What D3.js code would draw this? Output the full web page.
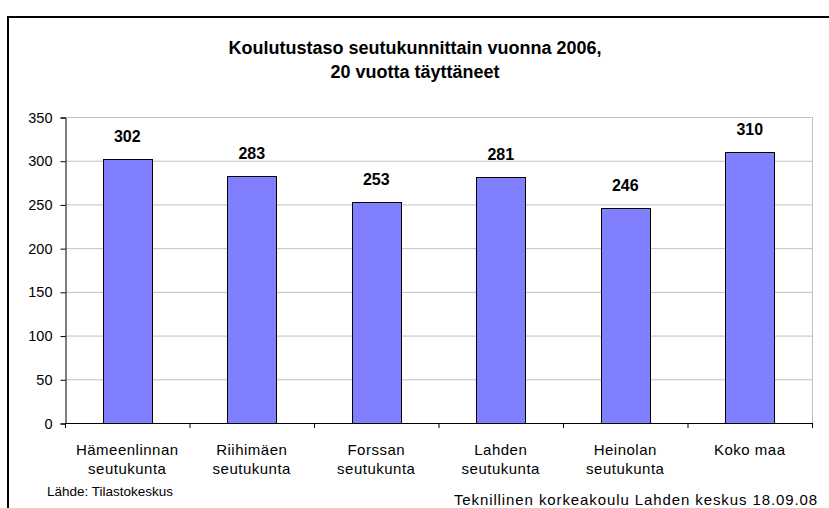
<!DOCTYPE html>
<html>
<head>
<meta charset="utf-8">
<script src="https://cdn.jsdelivr.net/npm/d3@7"></script>
<style>
  html, body { margin: 0; padding: 0; background: #fff; }
  svg { display: block; }
  .bold { font-family: "Liberation Sans", Arial, sans-serif; font-weight: bold; }
  .reg { font-family: "Liberation Sans", Arial, sans-serif; }
</style>
</head>
<body>
<svg id="chart" width="829" height="508"></svg>
<script>
// Koulutustason mittaluku seutukunnittain, 20 vuotta täyttäneet (2006)
const categories = [
  ["Hämeenlinnan", "seutukunta"],
  ["Riihimäen", "seutukunta"],
  ["Forssan", "seutukunta"],
  ["Lahden", "seutukunta"],
  ["Heinolan", "seutukunta"],
  ["Koko maa"]
];
const values = [302, 283, 253, 281, 246, 310];
const yTicks = [0, 50, 100, 150, 200, 250, 300, 350];
const titleLines = ["Koulutustaso seutukunnittain vuonna 2006,", "20 vuotta täyttäneet"];
const sourceText = "Lähde: Tilastokeskus";
const creditText = "Teknillinen korkeakoulu Lahden keskus 18.09.08";

const svg = d3.select("#chart");
const plot = { left: 65, right: 812, top: 117, bottom: 423 };

// outer chart frame
svg.append("rect")
  .attr("x", 8).attr("y", 17)
  .attr("width", 840).attr("height", 520)
  .attr("fill", "#fff").attr("stroke", "#000").attr("stroke-width", 2);

const x = d3.scaleBand()
  .domain(categories.map((d, i) => i))
  .range([plot.left, plot.right])
  .paddingInner(0.61).paddingOuter(0.305);
const xOuter = d3.scaleBand()
  .domain(categories.map((d, i) => i))
  .range([plot.left, plot.right]);
const y = d3.scaleLinear().domain([0, 350]).range([plot.bottom, plot.top]);

// gridlines
svg.append("g").selectAll("line").data(yTicks.filter(t => t > 0)).join("line")
  .attr("x1", plot.left).attr("x2", plot.right)
  .attr("y1", d => y(d) + 0.5).attr("y2", d => y(d) + 0.5)
  .attr("stroke", "#c0c0c0").attr("stroke-width", 1);
// right plot edge
svg.append("line")
  .attr("x1", plot.right + 0.5).attr("x2", plot.right + 0.5)
  .attr("y1", plot.top).attr("y2", plot.bottom)
  .attr("stroke", "#c0c0c0");

// bars
svg.append("g").selectAll("rect").data(values).join("rect")
  .attr("x", (d, i) => Math.round(x(i)) + 0.5)
  .attr("y", d => Math.round(y(d)) + 0.5)
  .attr("width", Math.round(x.bandwidth()))
  .attr("height", d => Math.round(y(0)) - Math.round(y(d)))
  .attr("fill", "#8080ff").attr("stroke", "#000").attr("stroke-width", 1);

// value labels
svg.append("g").selectAll("text").data(values).join("text")
  .attr("class", "bold")
  .attr("x", (d, i) => x(i) + x.bandwidth() / 2)
  .attr("y", d => y(d) - 17)
  .attr("text-anchor", "middle")
  .attr("font-size", 16)
  .text(d => d);

// y axis
const yAxis = d3.axisLeft(y).tickValues(yTicks).tickSize(5).tickPadding(8);
const gy = svg.append("g").attr("transform", `translate(${plot.left + 0.5},0.5)`).call(yAxis);
gy.select(".domain").attr("stroke", "#000");
gy.selectAll(".tick line").attr("stroke", "#000");
gy.selectAll(".tick text").attr("class", "reg").attr("font-size", 14.5).attr("fill", "#000")
  .attr("font-family", "Liberation Sans, Arial, sans-serif");

// x axis baseline and category separators
svg.append("line")
  .attr("x1", plot.left).attr("x2", plot.right + 1)
  .attr("y1", plot.bottom + 0.5).attr("y2", plot.bottom + 0.5)
  .attr("stroke", "#000");
svg.append("g").selectAll("line").data(d3.range(categories.length + 1)).join("line")
  .attr("x1", i => (i < categories.length ? xOuter(i) : plot.right) + 0.5)
  .attr("x2", i => (i < categories.length ? xOuter(i) : plot.right) + 0.5)
  .attr("y1", plot.bottom).attr("y2", plot.bottom + 5)
  .attr("stroke", "#000");

// category labels
const cat = svg.append("g").selectAll("text").data(categories).join("text")
  .attr("class", "reg")
  .attr("font-size", 15)
  .attr("letter-spacing", 0.5)
  .attr("text-anchor", "middle")
  .attr("x", (d, i) => xOuter(i) + xOuter.bandwidth() / 2)
  .attr("y", 455);
cat.selectAll("tspan").data(d => d).join("tspan")
  .attr("x", function () { return d3.select(this.parentNode).attr("x"); })
  .attr("dy", (d, j) => j === 0 ? 0 : 19)
  .text(d => d);

// title
svg.append("text").attr("class", "bold")
  .attr("text-anchor", "middle").attr("font-size", 18)
  .selectAll("tspan").data(titleLines).join("tspan")
  .attr("x", 415).attr("y", (d, i) => 54 + i * 24)
  .text(d => d);

// source and credit
svg.append("text").attr("class", "reg").attr("font-size", 13.5)
  .attr("x", 47).attr("y", 496).text(sourceText);
svg.append("text").attr("class", "reg").attr("font-size", 15).attr("letter-spacing", 0.9)
  .attr("text-anchor", "end").attr("x", 818).attr("y", 505).text(creditText);
</script>
</body>
</html>
